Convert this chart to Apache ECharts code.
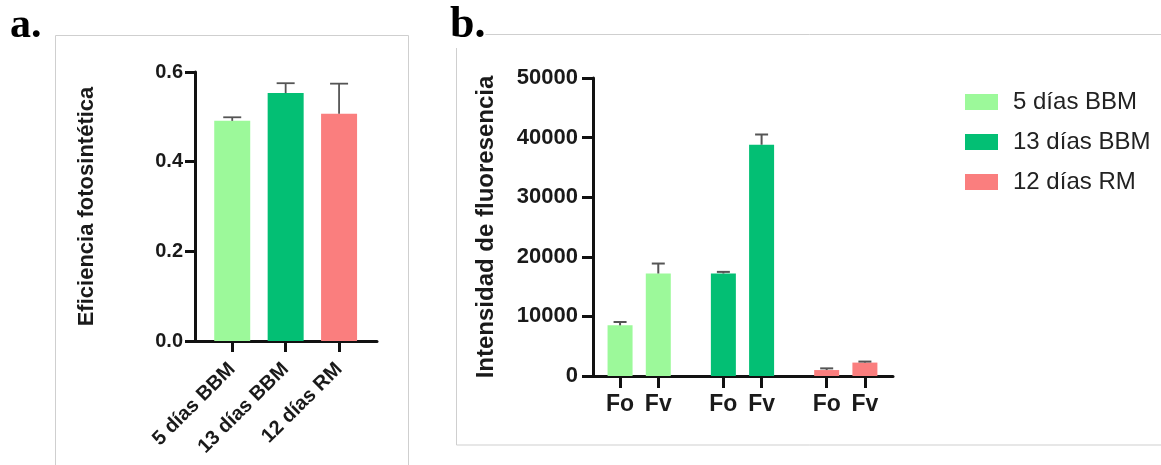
<!DOCTYPE html>
<html><head><meta charset="utf-8">
<script src="https://cdn.jsdelivr.net/npm/echarts@6/dist/echarts.min.js"></script>
<style>html,body{margin:0;padding:0;background:#fff}#c{width:1161px;height:465px}</style>
</head><body><div id="c"></div>
<script>
// ---- Panel a data ----
const catsA = ['5 días BBM', '13 días BBM', '12 días RM'];
const meanA = [0.491, 0.553, 0.507];
const sdA = [0.008, 0.022, 0.067];

// ---- Panel b data ----
const groupsB = ['5 días BBM', '13 días BBM', '12 días RM'];
const measuresB = ['Fo', 'Fv'];
const foMeanB = [8500, 17200, 1000];
const fvMeanB = [17200, 38800, 2250];
const foSdB = [560, 270, 280];
const fvSdB = [1670, 1720, 170];

// ---- styles / layout ----
const colors = ['#9cf99a', '#03bf74', '#fa7e7e'];
const HALF = 0.185; // half distance between Fo and Fv bars, in group units
const FONT = 'Liberation Sans';
const AX = '#111';

const chart = echarts.init(document.getElementById('c'), null, {renderer: 'canvas'});

function errRender(capW, lw) {
  return function (params, api) {
    const x = api.value(0), m = api.value(1), e = api.value(2);
    const p0 = api.coord([x, m]), p1 = api.coord([x, m + e]);
    const st = {stroke: '#555', lineWidth: lw};
    return {type: 'group', children: [
      {type: 'line', shape: {x1: p0[0], y1: p0[1], x2: p1[0], y2: p1[1]}, style: st},
      {type: 'line', shape: {x1: p1[0] - capW / 2, y1: p1[1], x2: p1[0] + capW / 2, y2: p1[1]}, style: st}
    ]};
  };
}

const idxA = catsA.map((c, i) => i);
const posB = [];
const labB = [];
const errB = [];
groupsB.forEach((g, gi) => {
  posB.push(gi - HALF, gi + HALF);
  labB.push(measuresB[0], measuresB[1]);
  errB.push([gi - HALF, foMeanB[gi], foSdB[gi]], [gi + HALF, fvMeanB[gi], fvSdB[gi]]);
});
function nearestLabel(v) {
  let best = 0;
  posB.forEach((p, i) => { if (Math.abs(p - v) < Math.abs(posB[best] - v)) best = i; });
  return labB[best];
}

const axisLine = {show: true, onZero: false, lineStyle: {color: AX, width: 3}};

const option = {
  animation: false,
  backgroundColor: '#fff',
  graphic: [
    {type: 'rect', silent: true, z: -10, shape: {x: 55.5, y: 35.5, width: 353, height: 460},
     style: {fill: 'none', stroke: '#cfcfcf', lineWidth: 1}},
    {type: 'rect', silent: true, z: -10, shape: {x: 456.5, y: 34.5, width: 720, height: 410.5},
     style: {fill: 'none', stroke: '#cfcfcf', lineWidth: 1}},
    {type: 'text', x: 10, y: 26, z: 10,
     style: {text: 'a.', font: 'bold 42px "Liberation Serif"', fill: '#000',
             textVerticalAlign: 'middle', verticalAlign: 'middle'}},
    {type: 'text', x: 450, y: 26, z: 10,
     style: {text: 'b.', font: 'bold 44px "Liberation Serif"', fill: '#000', backgroundColor: '#fff',
             textVerticalAlign: 'middle', verticalAlign: 'middle'}}
  ],
  grid: [
    {left: 195, top: 72, width: 182, height: 269},
    {left: 593, top: 78, width: 300, height: 298}
  ],
  legend: {
    orient: 'vertical', left: 960, top: 85, itemWidth: 33, itemHeight: 16, itemGap: 16,
    icon: 'rect', data: groupsB,
    textStyle: {fontSize: 24, color: '#222', fontFamily: FONT, padding: [0, 0, 0, 10], lineHeight: 24}
  },
  xAxis: [
    {type: 'value', gridIndex: 0, min: -0.697, max: 2.71,
     axisLine: axisLine, splitLine: {show: false},
     axisTick: {show: true, customValues: idxA, length: 11, lineStyle: {color: AX, width: 3}},
     axisLabel: {customValues: idxA, rotate: 45, margin: 25, formatter: v => catsA[Math.round(v)],
                 fontSize: 20, fontWeight: 'bold', color: '#1a1a1a', fontFamily: FONT}},
    {type: 'value', gridIndex: 1, min: -0.447, max: 2.457,
     axisLine: axisLine, splitLine: {show: false},
     axisTick: {show: true, customValues: posB, length: 12, lineStyle: {color: AX, width: 3}},
     axisLabel: {customValues: posB, margin: 17, formatter: v => nearestLabel(v),
                 fontSize: 23, fontWeight: 'bold', color: '#1a1a1a', fontFamily: FONT}}
  ],
  yAxis: [
    {type: 'value', gridIndex: 0, min: 0, max: 0.6, interval: 0.2,
     axisLine: axisLine, splitLine: {show: false},
     axisTick: {show: true, length: 10, lineStyle: {color: AX, width: 3}},
     axisLabel: {margin: 12, formatter: v => v.toFixed(1), fontSize: 20, fontWeight: 'bold',
                 color: '#1a1a1a', fontFamily: FONT},
     name: 'Eficiencia fotosintética', nameLocation: 'middle', nameGap: 97,
     nameTextStyle: {fontSize: 22, fontWeight: 'bold', color: '#1a1a1a', fontFamily: FONT}},
    {type: 'value', gridIndex: 1, min: 0, max: 50000, interval: 10000,
     axisLine: axisLine, splitLine: {show: false},
     axisTick: {show: true, length: 11, lineStyle: {color: AX, width: 3}},
     axisLabel: {margin: 15, formatter: v => String(v), fontSize: 22, fontWeight: 'bold',
                 color: '#1a1a1a', fontFamily: FONT},
     name: 'Intensidad de fluoresencia', nameLocation: 'middle', nameGap: 95,
     nameTextStyle: {fontSize: 24, fontWeight: 'bold', color: '#1a1a1a', fontFamily: FONT}}
  ],
  series: [
    {type: 'bar', name: 'a', xAxisIndex: 0, yAxisIndex: 0, barWidth: 36,
     data: catsA.map((c, i) => ({value: [i, meanA[i]], itemStyle: {color: colors[i]}}))},
    {type: 'custom', xAxisIndex: 0, yAxisIndex: 0, renderItem: errRender(18, 1.8),
     encode: {x: 0, y: 1}, data: catsA.map((c, i) => [i, meanA[i], sdA[i]]), z: 5},
    ...groupsB.map((g, gi) => ({
      type: 'bar', name: g, xAxisIndex: 1, yAxisIndex: 1, barWidth: 25, barGap: '-100%',
      itemStyle: {color: colors[gi]},
      data: [[gi - HALF, foMeanB[gi]], [gi + HALF, fvMeanB[gi]]]
    })),
    {type: 'custom', xAxisIndex: 1, yAxisIndex: 1, renderItem: errRender(13, 2),
     encode: {x: 0, y: 1}, data: errB, z: 5}
  ]
};
chart.setOption(option);
</script>
</body></html>
